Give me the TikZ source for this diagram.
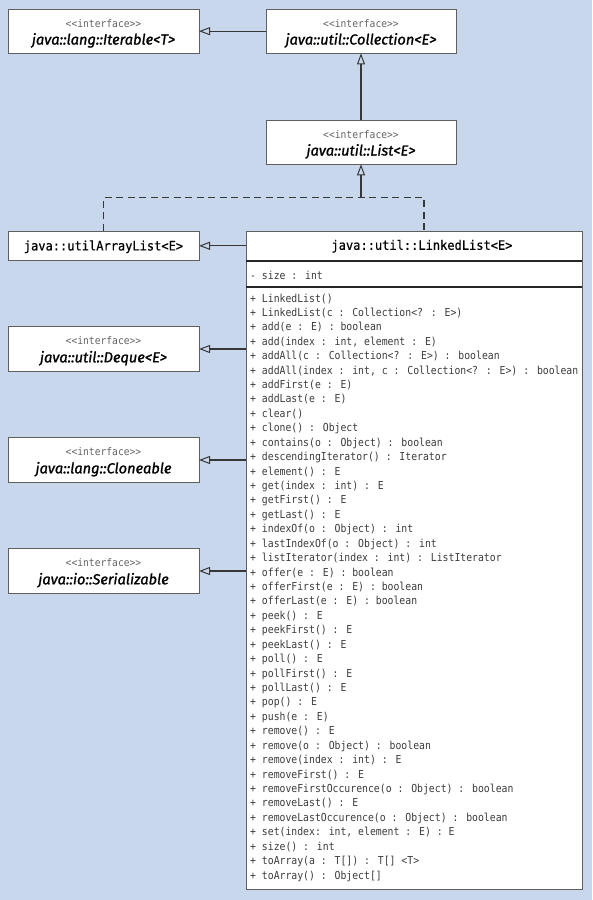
\documentclass[tikz,border=0pt]{standalone}
\usepackage{fontspec}
\usetikzlibrary{arrows.meta,calc}
\newfontfamily\methfont{DejaVu Sans Mono}[FakeStretch=0.89]
\newfontfamily\headfont{DejaVu Sans Mono}[FakeStretch=0.925, FakeBold=0.5]
\newfontfamily\stfont{DejaVu Sans Mono}[FakeStretch=0.92]
\newfontfamily\ifont{Fira Sans}[ItalicFeatures={FakeBold=1.2}]
\definecolor{bg}{RGB}{201,215,237}
\definecolor{boxgray}{RGB}{95,95,95}
\definecolor{linegray}{RGB}{55,55,55}
\definecolor{stgray}{RGB}{100,100,100}
\definecolor{methgray}{RGB}{60,60,60}
\tikzset{
  box/.style={draw=boxgray, fill=white, line width=0.9pt, inner sep=0pt, outer sep=0pt,
    minimum width=191pt, minimum height=44.3pt},
  stereo/.style={font=\stfont\fontsize{10.5}{12}\selectfont, text=stgray, inner sep=0pt, anchor=base},
  iname/.style={font=\ifont\itshape\fontsize{14.6}{16}\selectfont, inner sep=0pt, anchor=base},
  cname/.style={font=\headfont\fontsize{13}{15}\selectfont, inner sep=0pt, anchor=base},
  meth/.style={font=\methfont\fontsize{11}{13}\selectfont, text=methgray, inner sep=0pt, anchor=base west},
  impl/.style={draw=linegray, line width=1.1pt, -{Triangle[open, length=11pt, width=8pt, line width=1pt]}},
  real/.style={draw=linegray, line width=1.1pt, dash pattern=on 7pt off 4.5pt},
  sep/.style={draw=black!85, line width=1.7pt}
}
\begin{document}
\begin{tikzpicture}[x=1pt,y=-1pt]
\fill[bg] (0,0) rectangle (592,900);
\useasboundingbox (0,0) rectangle (592,900);

% interface boxes
\node[box] (Iter) at (103.5,31.2) {};
\node[stereo] (IterS) at ($(Iter.north)+(0,18)$) {<<interface>>};
\node[iname] (IterN) at ($(Iter.north)+(0,35.5)$) {java::lang::Iterable<T>};

\node[box, minimum width=190pt] (Coll) at (361,31.2) {};
\node[stereo] (CollS) at ($(Coll.north)+(0,18)$) {<<interface>>};
\node[iname] (CollN) at ($(Coll.north)+(0,35.5)$) {java::util::Collection<E>};

\node[box, minimum width=190pt] (List) at (361,142.2) {};
\node[stereo] (ListS) at ($(List.north)+(0,18)$) {<<interface>>};
\node[iname] (ListN) at ($(List.north)+(0,35.5)$) {java::util::List<E>};

\node[box, minimum height=29.7pt] (AL) at (103.5,245.8) {};
\node[cname] (ALN) at ($(AL.center)+(0,4.6)$) {java::utilArrayList<E>};

\node[box] (Deq) at (103.5,349) {};
\node[stereo] (DeqS) at ($(Deq.north)+(0,18)$) {<<interface>>};
\node[iname] (DeqN) at ($(Deq.north)+(0,35.5)$) {java::util::Deque<E>};

\node[box] (Clo) at (103.5,460) {};
\node[stereo] (CloS) at ($(Clo.north)+(0,18)$) {<<interface>>};
\node[iname] (CloN) at ($(Clo.north)+(0,35.5)$) {java::lang::Cloneable};

\node[box] (Ser) at (103.5,571) {};
\node[stereo] (SerS) at ($(Ser.north)+(0,18)$) {<<interface>>};
\node[iname] (SerN) at ($(Ser.north)+(0,35.5)$) {java::io::Serializable};

% LinkedList class
\node[box, anchor=north west, minimum width=336pt, minimum height=658.5pt] (LL) at (246,231) {};
\node[cname] (LLN) at (422,249.8) {java::util::LinkedList<E>};
\draw[sep] (LL.west |- 0,261.3) -- (LL.east |- 0,261.3);
\draw[sep] (LL.west |- 0,286.7) -- (LL.east |- 0,286.7);
\node[meth] (LLA) at (250,279) {- size : int};
\foreach \t [count=\i from 0] in {
{+ LinkedList()},
{+ LinkedList(c : Collection<? : E>)},
{+ add(e : E) : boolean},
{+ add(index : int, element : E)},
{+ addAll(c : Collection<? : E>) : boolean},
{+ addAll(index : int, c : Collection<? : E>) : boolean},
{+ addFirst(e : E)},
{+ addLast(e : E)},
{+ clear()},
{+ clone() : Object},
{+ contains(o : Object) : boolean},
{+ descendingIterator() : Iterator},
{+ element() : E},
{+ get(index : int) : E},
{+ getFirst() : E},
{+ getLast() : E},
{+ indexOf(o : Object) : int},
{+ lastIndexOf(o : Object) : int},
{+ listIterator(index : int) : ListIterator},
{+ offer(e : E) : boolean},
{+ offerFirst(e : E) : boolean},
{+ offerLast(e : E) : boolean},
{+ peek() : E},
{+ peekFirst() : E},
{+ peekLast() : E},
{+ poll() : E},
{+ pollFirst() : E},
{+ pollLast() : E},
{+ pop() : E},
{+ push(e : E)},
{+ remove() : E},
{+ remove(o : Object) : boolean},
{+ remove(index : int) : E},
{+ removeFirst() : E},
{+ removeFirstOccurence(o : Object) : boolean},
{+ removeLast() : E},
{+ removeLastOccurence(o : Object) : boolean},
{+ set(index: int, element : E) : E},
{+ size() : int},
{+ toArray(a : T[]) : T[] <T>},
{+ toArray() : Object[]}
}{
  \node[meth] (m\i) at (250,302+14.425*\i) {\t};
}

% connectors
\coordinate (J) at (361,197.7);
\coordinate (LLtop) at (424,231);
\draw[impl] (Coll.west) -- (Iter.east);
\draw[impl] (List.north) -- (Coll.south);
\draw[impl] (J) -- (List.south);
\draw[real] (AL.north) |- (J) -| (LLtop);
\draw[impl] (AL.east -| LL.west) -- (AL.east);
\draw[impl] (Deq.east -| LL.west) -- (Deq.east);
\draw[impl] (Clo.east -| LL.west) -- (Clo.east);
\draw[impl] (Ser.east -| LL.west) -- (Ser.east);
\end{tikzpicture}
\end{document}
